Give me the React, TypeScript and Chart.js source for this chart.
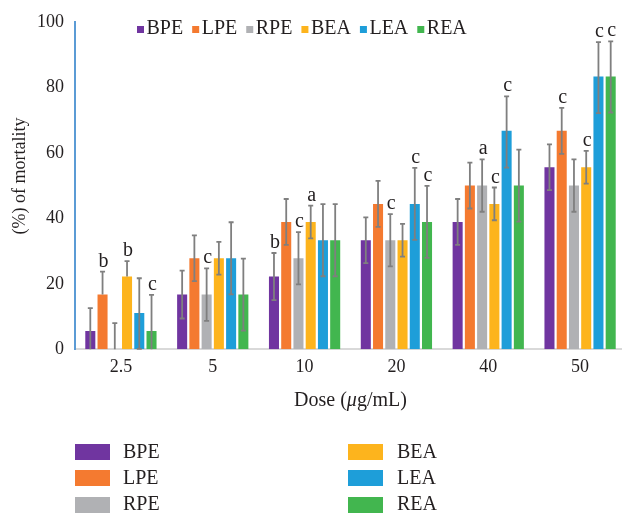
import React, { useEffect, useRef } from "react";
import { Chart, registerables } from "chart.js";

Chart.register(...registerables);

const categories = ["2.5", "5", "10", "20", "40", "50"];
const seriesNames = ["BPE", "LPE", "RPE", "BEA", "LEA", "REA"];
const seriesColors = ["#7035A0", "#F47A30", "#B0B1B4", "#FDB41D", "#1E9ED9", "#42B64F"];

const BPE = [5.6, 16.7, 22.2, 33.3, 38.9, 55.6];
const LPE = [16.7, 27.8, 38.9, 44.4, 50, 66.7];
const RPE = [0, 16.7, 27.8, 33.3, 50, 50];
const BEA = [22.2, 27.8, 38.9, 33.3, 44.4, 55.6];
const LEA = [11.1, 27.8, 33.3, 44.4, 66.7, 83.3];
const REA = [5.6, 16.7, 33.3, 38.9, 50, 83.3];

const BPE_errUp = [7, 7.3, 7.2, 7, 7, 7];
const BPE_errDown = [7, 7.3, 7.2, 7, 7, 7];
const LPE_errUp = [7, 7, 7, 7, 7, 7];
const LPE_errDown = [0, 7, 7, 7, 7, 7];
const RPE_errUp = [8, 8, 8, 8, 8, 8];
const RPE_errDown = [0, 8, 8, 8, 8, 8];
const BEA_errUp = [4.7, 5, 5, 5, 5, 5];
const BEA_errDown = [0, 5, 5, 5, 5, 5];
const LEA_errUp = [10.6, 11, 11, 11, 10.5, 10.5];
const LEA_errDown = [11, 11, 11, 11, 11.2, 11.2];
const REA_errUp = [11, 11, 11, 11, 11, 10.7];
const REA_errDown = [11, 11, 11, 11, 11, 11];

const BPE_letters = ["", "", "b", "", "", ""];
const LPE_letters = ["b", "", "", "", "", "c"];
const RPE_letters = ["", "c", "c", "c", "a", ""];
const BEA_letters = ["b", "", "a", "", "c", "c"];
const LEA_letters = ["", "", "", "c", "c", "c"];
const REA_letters = ["c", "", "", "c", "", "c"];

const yTicks = [0, 20, 40, 60, 80, 100];

const values = [BPE, LPE, RPE, BEA, LEA, REA];
const errUps = [BPE_errUp, LPE_errUp, RPE_errUp, BEA_errUp, LEA_errUp, REA_errUp];
const errDowns = [BPE_errDown, LPE_errDown, RPE_errDown, BEA_errDown, LEA_errDown, REA_errDown];
const letters = [BPE_letters, LPE_letters, RPE_letters, BEA_letters, LEA_letters, REA_letters];

const FONT = '"Liberation Serif", "Times New Roman", serif';
const TEXT = "#231F20";

const extrasPlugin = {
  id: "extras",
  afterDatasetsDraw(chart: any) {
    const ctx = chart.ctx;
    const y = chart.scales.y;
    ctx.save();
    chart.data.datasets.forEach((_ds: any, di: number) => {
      const meta = chart.getDatasetMeta(di);
      meta.data.forEach((bar: any, i: number) => {
        const v = values[di][i];
        const up = errUps[di][i];
        const down = errDowns[di][i];
        const topPx = y.getPixelForValue(v + up);
        const lowVal = Math.max(0, v - down);
        const botPx = y.getPixelForValue(lowVal);
        ctx.strokeStyle = "#7F7F7F";
        ctx.lineWidth = 1.8;
        ctx.beginPath();
        ctx.moveTo(bar.x, topPx);
        ctx.lineTo(bar.x, botPx);
        ctx.moveTo(bar.x - 2.5, topPx);
        ctx.lineTo(bar.x + 2.5, topPx);
        if (down > 0 && v - down > 0) {
          ctx.moveTo(bar.x - 2.5, botPx);
          ctx.lineTo(bar.x + 2.5, botPx);
        }
        ctx.stroke();
        const letter = letters[di][i];
        if (letter) {
          ctx.fillStyle = TEXT;
          ctx.font = `20px ${FONT}`;
          ctx.textAlign = "center";
          ctx.textBaseline = "alphabetic";
          ctx.fillText(letter, bar.x + 1, topPx - 5);
        }
      });
    });
    ctx.restore();
  },
  afterDraw(chart: any) {
    const ctx = chart.ctx;
    const area = chart.chartArea;
    ctx.save();
    ctx.fillStyle = TEXT;
    // y title
    ctx.font = `18px ${FONT}`;
    ctx.save();
    ctx.translate(25, 176);
    ctx.rotate(-Math.PI / 2);
    ctx.textAlign = "center";
    ctx.textBaseline = "alphabetic";
    ctx.fillText("(%) of mortality", 0, 0);
    ctx.restore();
    // x title with italic mu
    const parts = [
      { t: "Dose (", f: `20px ${FONT}` },
      { t: "\u03BC", f: `italic 20px ${FONT}` },
      { t: "g/mL)", f: `20px ${FONT}` },
    ];
    let total = 0;
    parts.forEach((p) => {
      ctx.font = p.f;
      total += ctx.measureText(p.t).width;
    });
    let x = (area.left + area.right) / 2 - total / 2;
    ctx.textAlign = "left";
    ctx.textBaseline = "alphabetic";
    parts.forEach((p) => {
      ctx.font = p.f;
      ctx.fillText(p.t, x, 406);
      x += ctx.measureText(p.t).width;
    });
    // top legend
    ctx.font = `20px ${FONT}`;
    let lx = 137;
    seriesNames.forEach((name, i) => {
      ctx.fillStyle = seriesColors[i];
      ctx.fillRect(lx, 26, 7, 7);
      ctx.fillStyle = TEXT;
      ctx.fillText(name, lx + 9.5, 34);
      lx += 9.5 + ctx.measureText(name).width + 9;
    });
    // bottom legend
    const colBox = [75, 348];
    const colText = [123, 397];
    const rowTop = [444, 470, 497];
    const rowBase = [457.5, 483.5, 510];
    seriesNames.forEach((name, i) => {
      const c = Math.floor(i / 3);
      const r = i % 3;
      ctx.fillStyle = seriesColors[i];
      ctx.fillRect(colBox[c], rowTop[r], 35, 16);
      ctx.fillStyle = TEXT;
      ctx.fillText(name, colText[c], rowBase[r]);
    });
    ctx.restore();
  },
};

export default function App() {
  const ref = useRef<HTMLCanvasElement>(null);
  useEffect(() => {
    if (!ref.current) return;
    const chart = new Chart(ref.current, {
      type: "bar",
      data: {
        labels: categories,
        datasets: seriesNames.map((name, i) => ({
          label: name,
          data: values[i],
          backgroundColor: seriesColors[i],
          borderWidth: 0,
          categoryPercentage: 0.8,
          barPercentage: 0.82,
        })),
      },
      options: {
        responsive: false,
        animation: false,
        devicePixelRatio: 1,
        layout: { padding: { top: 20, bottom: 93, left: 0, right: 0 } },
        plugins: { legend: { display: false }, tooltip: { enabled: false } },
        scales: {
          x: {
            grid: { display: false, drawTicks: false },
            border: { display: true, color: "#D9D9D9", width: 2 },
            ticks: { color: TEXT, font: { family: FONT, size: 18 }, padding: 7 },
            afterFit: (s: any) => {
              s.height = 70.7;
            },
          },
          y: {
            min: 0,
            max: 100,
            afterBuildTicks: (s: any) => {
              s.ticks = yTicks.map((v) => ({ value: v }));
            },
            grid: { display: false, drawTicks: false },
            border: { display: true, color: "#5B9BD5", width: 2 },
            ticks: { color: TEXT, font: { family: FONT, size: 18 }, padding: 11 },
            afterFit: (s: any) => {
              s.width = 75;
            },
          },
        },
      },
      plugins: [extrasPlugin],
    });
    return () => chart.destroy();
  }, []);
  return (
    <div style={{ position: "fixed", left: 0, top: 0, width: 622, height: 513, overflow: "hidden", background: "#fff" }}>
      <canvas ref={ref} width={626} height={513} style={{ width: 626, height: 513, display: "block" }} />
    </div>
  );
}
